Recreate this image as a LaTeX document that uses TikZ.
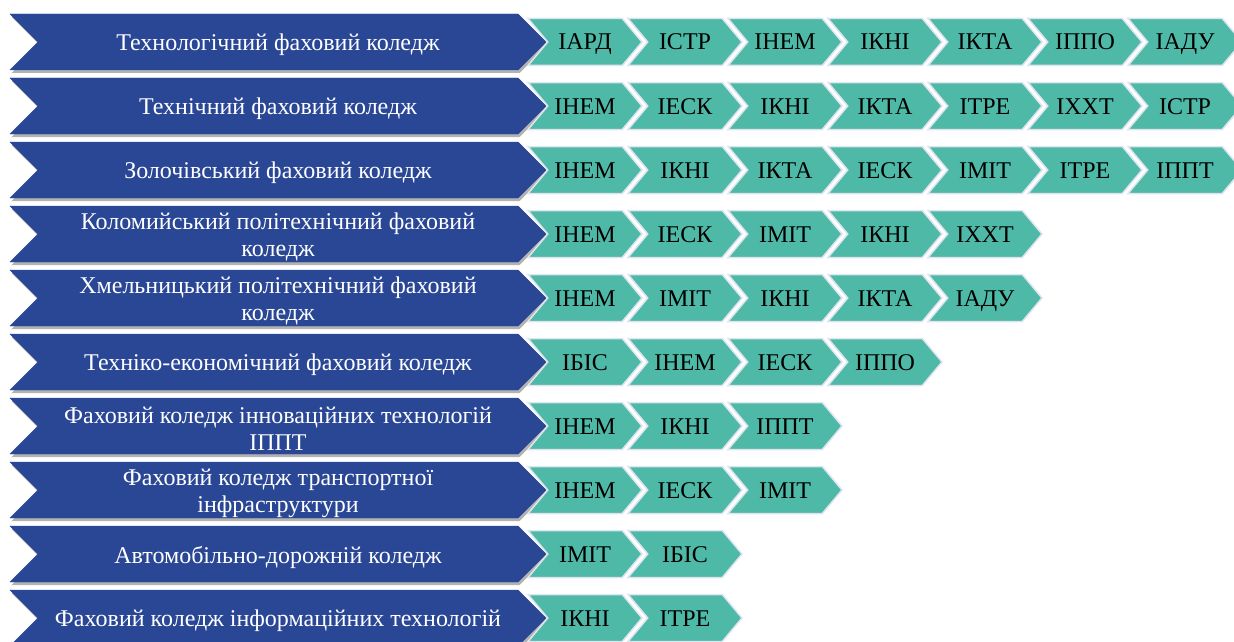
\documentclass[tikz,border=0pt]{standalone}
\usepackage{fontspec}
\setmainfont{Liberation Serif}
\usetikzlibrary{shapes.symbols, shadows}
\definecolor{collegeblue}{RGB}{42,71,150}
\definecolor{instteal}{RGB}{79,185,168}
\definecolor{instedge}{RGB}{222,228,240}
\tikzset{
  college/.style={signal, signal from=west, signal to=east, signal pointer angle=90,
    fill=collegeblue, draw=collegeblue, inner sep=0pt,
    minimum width=536pt, minimum height=56pt,
    drop shadow={shadow xshift=1.5pt, shadow yshift=-3pt, fill=black, opacity=0.3}},
  collegetext/.style={text=white, align=center, inner sep=0pt, font=\fontsize{24}{27}\selectfont},
  inst/.style={signal, signal from=west, signal to=east, signal pointer angle=100,
    fill=instteal, draw=instedge, line width=1.5pt, inner sep=0pt,
    text height=16pt, text depth=0pt,
    minimum width=114pt, minimum height=47pt, font=\fontsize{24}{28}\selectfont}
}

\begin{document}
\begin{tikzpicture}[x=1pt, y=-1pt]
\useasboundingbox (0,0) rectangle (1234,642);
\foreach \r/\name/\codes in {
  0/{Технологічний фаховий коледж}/{ІАРД,ІСТР,ІНЕМ,ІКНІ,ІКТА,ІППО,ІАДУ},
  1/{Технічний фаховий коледж}/{ІНЕМ,ІЕСК,ІКНІ,ІКТА,ІТРЕ,ІХХТ,ІСТР},
  2/{Золочівський фаховий коледж}/{ІНЕМ,ІКНІ,ІКТА,ІЕСК,ІМІТ,ІТРЕ,ІППТ},
  3/{Коломийський політехнічний фаховий\\коледж}/{ІНЕМ,ІЕСК,ІМІТ,ІКНІ,ІХХТ},
  4/{Хмельницький політехнічний фаховий\\коледж}/{ІНЕМ,ІМІТ,ІКНІ,ІКТА,ІАДУ},
  5/{Техніко-економічний фаховий коледж}/{ІБІС,ІНЕМ,ІЕСК,ІППО},
  6/{Фаховий коледж інноваційних технологій\\ІППТ}/{ІНЕМ,ІКНІ,ІППТ},
  7/{Фаховий коледж транспортної\\інфраструктури}/{ІНЕМ,ІЕСК,ІМІТ},
  8/{Автомобільно-дорожній коледж}/{ІМІТ,ІБІС},
  9/{Фаховий коледж інформаційних технологій}/{ІКНІ,ІТРЕ}} {
  \pgfmathsetmacro\yy{42+64*\r}
  \node[college] (col\r) at (278,\yy) {};
  \node[collegetext] (name\r) at ([yshift=-3pt]col\r.center) {\name};
  \foreach \code [count=\j from 0] in \codes {
    \node[inst] (inst\r-\j) at ({585+100*\j},\yy) {\code};
  }
}
\end{tikzpicture}
\end{document}
